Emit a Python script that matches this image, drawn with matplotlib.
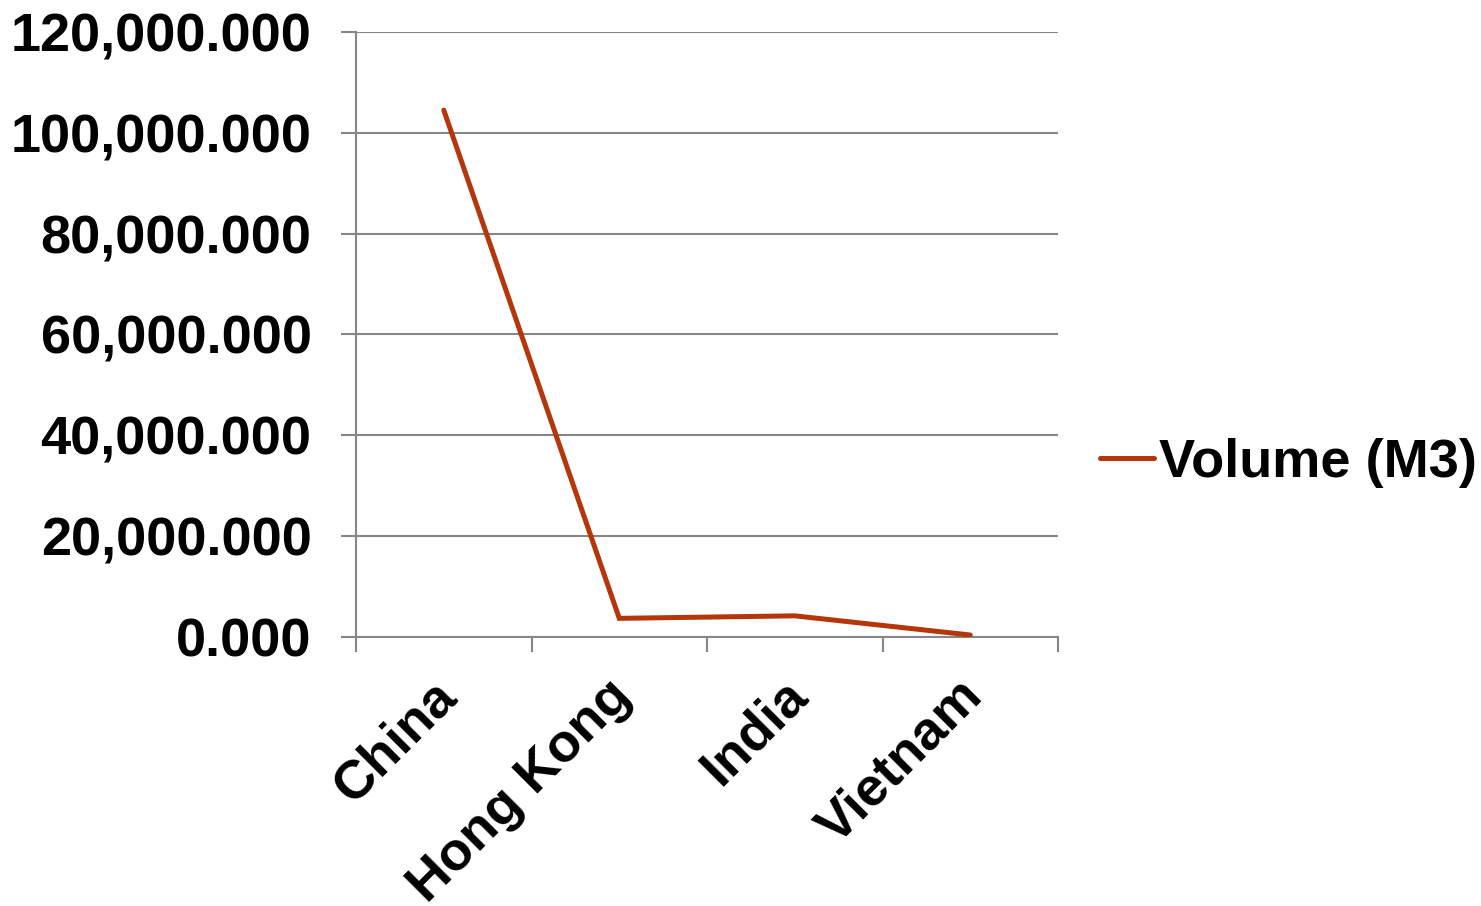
import matplotlib
matplotlib.use("Agg")
import matplotlib.pyplot as plt
import matplotlib.transforms as mtransforms
from matplotlib.ticker import FuncFormatter, MultipleLocator

plt.rcParams['font.family'] = ['Liberation Sans', 'DejaVu Sans']

countries = ["China", "Hong Kong", "India", "Vietnam"]
volume_m3 = [104500, 3700, 4200, 400]
series_name = "Volume (M3)"

line_color = "#B5360A"
grid_color = "#868686"

fig = plt.figure(figsize=(14.81, 9.06), dpi=100)
ax = fig.add_axes([0.2404, 0.2969, 0.4740, 0.6678])

x = list(range(len(countries)))
ax.plot(x, volume_m3, color=line_color, linewidth=3.6, solid_capstyle='round',
        solid_joinstyle='miter', label=series_name, zorder=3)

ax.set_xlim(-0.5, len(countries) - 0.5)
ax.set_ylim(0, 120000)
ax.yaxis.set_major_locator(MultipleLocator(20000))
ax.yaxis.set_major_formatter(FuncFormatter(lambda v, p: f"{v:,.3f}"))

# category boundaries carry the x tick marks; labels sit at the centres
ax.set_xticks([i - 0.5 for i in range(len(countries) + 1)])
ax.set_xticklabels([])
ax.set_xticks(x, minor=True)
ax.set_xticklabels(countries, minor=True, rotation=45, ha='right',
                   rotation_mode='anchor', fontsize=39, fontweight='bold')
ax.tick_params(axis='x', which='minor', length=0, pad=24)
ax.tick_params(axis='x', which='major', length=11, width=1.5, color=grid_color)
ax.tick_params(axis='y', which='major', length=11, width=1.5, color=grid_color,
               labelsize=39, pad=21)
for lbl in ax.get_yticklabels():
    lbl.set_fontweight('bold')

shift = mtransforms.ScaledTranslation(-13 / 100, 0, fig.dpi_scale_trans)
for lbl in ax.get_xticklabels(minor=True):
    lbl.set_transform(lbl.get_transform() + shift)

ax.grid(axis='y', color=grid_color, linewidth=1.5)
for side in ('top', 'right'):
    ax.spines[side].set_visible(False)
for side in ('left', 'bottom'):
    ax.spines[side].set_color(grid_color)
    ax.spines[side].set_linewidth(1.5)
ax.set_axisbelow(True)

leg = fig.legend(loc='center left', bbox_to_anchor=(0.728, 0.489), frameon=False,
                 handlelength=1.0, handletextpad=0.1, borderaxespad=0,
                 prop={'size': 39, 'weight': 'bold'})

fig.savefig("out.png", dpi=100)
